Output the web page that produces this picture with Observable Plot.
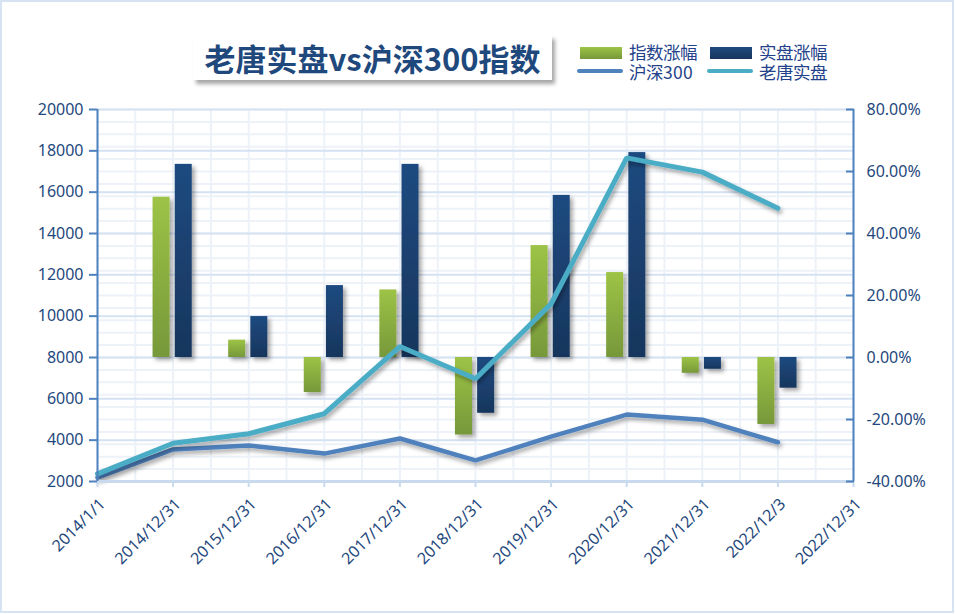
<!DOCTYPE html>
<html><head><meta charset="utf-8">
<script src="https://cdn.jsdelivr.net/npm/d3@7"></script>
<script src="https://cdn.jsdelivr.net/npm/@observablehq/plot@0.6"></script>
<style>
@font-face{font-family:"LegendCJK";src:local("Noto Sans CJK SC"),local("Noto Sans CJK SC Regular"),local("NotoSansCJKsc-Regular");ascent-override:86%;descent-override:12%;line-gap-override:0%;}
html,body{margin:0;padding:0;background:#fff;}
#page{position:relative;width:955px;height:614px;overflow:hidden;font-family:"Noto Sans","Noto Sans CJK SC",sans-serif;}
#frame{position:absolute;left:0;top:0;width:954px;height:613px;box-sizing:border-box;border:2px solid #d6e3f2;}
#title{position:absolute;left:193px;top:35px;width:359px;height:45px;background:#fff;box-shadow:3px 4px 4px rgba(0,0,0,0.35);font-family:"Noto Sans CJK SC";font-weight:700;font-size:31px;color:#1f497d;line-height:45px;text-align:center;white-space:nowrap;}
.lg{position:absolute;font-family:"LegendCJK","Noto Sans CJK SC";font-size:17.5px;color:#23428a;line-height:18px;height:18px;white-space:nowrap;}
.sw{position:absolute;}
#chart{position:absolute;left:0;top:100px;}
</style></head>
<body>
<div id="page">
  <div id="frame"></div>
  <div id="title"></div>
  <div id="legend"></div>
  <div id="chart"></div>
</div>
<script>
// ---- data ----
const titleText = "老唐实盘vs沪深300指数";
const dates = ["2014/1/1","2014/12/31","2015/12/31","2016/12/31","2017/12/31","2018/12/31","2019/12/31","2020/12/31","2021/12/31","2022/12/3","2022/12/31"];
const barSeries = ["指数涨幅","实盘涨幅"];
const lineSeries = ["沪深300","老唐实盘"];
// left axis (points)
const hs300   = [2190, 3550, 3740, 3350, 4080, 3020, 4170, 5240, 4990, 3900];
const laotang = [2370, 3850, 4310, 5280, 8530, 6970, 10600, 17660, 16970, 15220];
// right axis (percent)
const indexChg = [null, 51.7, 5.6, -11.3, 21.8, -25.0, 36.1, 27.4, -5.1, -21.6];
const realChg  = [null, 62.3, 13.2, 23.2, 62.3, -18.0, 52.3, 66.1, -3.8, -9.9];
const leftTicks = [2000,4000,6000,8000,10000,12000,14000,16000,18000,20000];
const rightTicks = [-40,-20,0,20,40,60,80];

// ---- right axis mapped onto left axis units ----
const ZERO = 8000, PER = 150;
const toLeft = p => ZERO + p * PER;

document.getElementById("title").textContent = titleText;

// legend
const lg = document.getElementById("legend");
const barGrad = ["linear-gradient(#9dc346,#77983a)", "linear-gradient(#1f4a80,#17365d)"];
const lineCol = ["#4f81bd", "#4bacc6"];
const lx = [580, 710];
barSeries.forEach((n, k) => {
  const s = document.createElement("div"); s.className = "sw";
  s.style.cssText = `left:${lx[k]}px;top:47px;width:42px;height:12px;background:${barGrad[k]};`;
  lg.appendChild(s);
  const t = document.createElement("div"); t.className = "lg";
  t.style.cssText = `left:${lx[k] + 49}px;top:44px;`; t.textContent = n; lg.appendChild(t);
});
lineSeries.forEach((n, k) => {
  const s = document.createElement("div"); s.className = "sw";
  s.style.cssText = `left:${lx[k] - 3}px;top:69px;width:46px;height:4px;border-radius:2px;background:${lineCol[k]};`;
  lg.appendChild(s);
  const t = document.createElement("div"); t.className = "lg";
  t.style.cssText = `left:${lx[k] + 49}px;top:64px;`; t.textContent = n; lg.appendChild(t);
});

const idx = d3.range(dates.length);
const barIdx = indexChg.map((p, i) => ({i, p})).filter(d => d.p != null);
const barReal = realChg.map((p, i) => ({i, p})).filter(d => d.p != null);
const hsRows = hs300.map((v, i) => ({i, v}));
const ltRows = laotang.map((v, i) => ({i, v}));

const chart = Plot.plot({
  width: 955, height: 500,
  marginTop: 9, marginBottom: 119, marginLeft: 97, marginRight: 102,
  x: {domain: [0, dates.length - 1]},
  y: {domain: [2000, 20000]},
  style: {background: "transparent", fontFamily: '"Noto Sans", sans-serif', overflow: "visible"},
  marks: [
    Plot.ruleY(d3.range(-40, 80.01, 4).map(toLeft), {stroke: "#edf2f9", strokeWidth: 2}),
    Plot.ruleX(d3.range(0, dates.length - 0.99, 0.5), {stroke: "#edf2f9", strokeWidth: 2}),
    Plot.ruleY(leftTicks, {stroke: "#d5e2f2", strokeWidth: 2}),
    Plot.rect(barIdx, {x1: d => d.i - 0.265, x2: d => d.i - 0.04, y1: () => ZERO, y2: d => toLeft(d.p), fill: "#9bbb59"}),
    Plot.rect(barReal, {x1: d => d.i + 0.028, x2: d => d.i + 0.253, y1: () => ZERO, y2: d => toLeft(d.p), fill: "#1f497d"}),
    Plot.line(hsRows, {x: "i", y: "v", stroke: "#4f81bd", strokeWidth: 4.5, strokeLinejoin: "miter"}),
    Plot.line(ltRows, {x: "i", y: "v", stroke: "#4bacc6", strokeWidth: 5, strokeLinejoin: "miter"}),
    Plot.ruleY([2000], {stroke: "#c9daef", strokeWidth: 3}),
    Plot.axisX({ticks: idx, tickSize: 6, stroke: "#c9daef", strokeWidth: 2, fill: "none", label: null, tickFormat: () => ""}),
    Plot.axisX({ticks: idx, tickSize: 0, tickRotate: -45, tickPadding: 20, dx: 5, tickFormat: i => dates[i], fill: "#1f497d", fontSize: 16, label: null}),
    Plot.ruleX([0], {stroke: "#4f81bd", strokeWidth: 2}),
    Plot.ruleX([dates.length - 1], {stroke: "#4f81bd", strokeWidth: 2}),
    Plot.axisY({anchor: "left", ticks: leftTicks, tickSize: 8, tickPadding: 6, stroke: "#4f81bd", strokeWidth: 2, fill: "#1f497d", fontSize: 16, label: null, tickFormat: d3.format("d")}),
    Plot.axisY({anchor: "right", ticks: rightTicks.map(toLeft), tickSize: -8, tickPadding: 21, stroke: "#4f81bd", strokeWidth: 2, fill: "#1f497d", fontSize: 16, label: null, tickFormat: v => ((v - ZERO) / PER).toFixed(2) + "%"})
  ]
});
document.getElementById("chart").appendChild(chart);

// gradients + shadows
const defs = d3.select(chart).insert("defs", ":first-child");
defs.html(`
<linearGradient id="gGreen" x1="0" y1="0" x2="0" y2="1"><stop offset="0" stop-color="#9dc346"/><stop offset="1" stop-color="#77983a"/></linearGradient>
<linearGradient id="gBlue" x1="0" y1="0" x2="0" y2="1"><stop offset="0" stop-color="#1f4a80"/><stop offset="1" stop-color="#17365d"/></linearGradient>
<filter id="shBar" x="-20%" y="-20%" width="150%" height="150%"><feDropShadow dx="3" dy="3" stdDeviation="2" flood-color="#000" flood-opacity="0.35"/></filter>
<filter id="shLine" x="-10%" y="-20%" width="130%" height="150%"><feDropShadow dx="2" dy="3" stdDeviation="2" flood-color="#000" flood-opacity="0.35"/></filter>`);
const rects = chart.querySelectorAll('g[aria-label="rect"]');
const lines = chart.querySelectorAll('g[aria-label="line"]');
if (rects.length >= 2) {
  rects[0].setAttribute("fill", "url(#gGreen)");
  rects[1].setAttribute("fill", "url(#gBlue)");
  rects.forEach(g => g.setAttribute("filter", "url(#shBar)"));
}
lines.forEach(g => g.setAttribute("filter", "url(#shLine)"));
</script>
</body></html>
